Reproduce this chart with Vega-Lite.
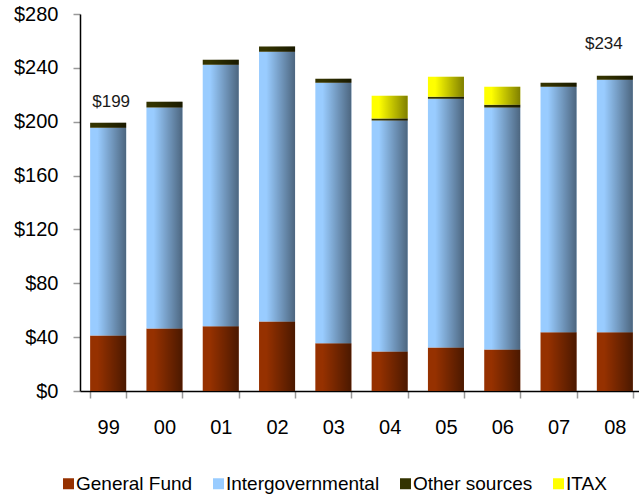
{
  "$schema": "https://vega.github.io/schema/vega-lite/v6.json",
  "width": 563,
  "height": 377,
  "autosize": {"type": "none"},
  "padding": {"left": 80, "top": 14, "right": 0, "bottom": 104},
  "background": "white",
  "config": {
    "view": {"stroke": null},
    "font": "Liberation Sans",
    "axis": {"grid": false, "title": null}
  },
  "datasets": {
    "rev": [
      {"year": "99", "series": "General Fund", "value": 41.3},
      {"year": "99", "series": "Intergovernmental", "value": 154.2},
      {"year": "99", "series": "Other sources", "value": 3.7},
      {"year": "00", "series": "General Fund", "value": 46.5},
      {"year": "00", "series": "Intergovernmental", "value": 164.1},
      {"year": "00", "series": "Other sources", "value": 4.2},
      {"year": "01", "series": "General Fund", "value": 48.0},
      {"year": "01", "series": "Intergovernmental", "value": 194.4},
      {"year": "01", "series": "Other sources", "value": 3.7},
      {"year": "02", "series": "General Fund", "value": 51.7},
      {"year": "02", "series": "Intergovernmental", "value": 200.3},
      {"year": "02", "series": "Other sources", "value": 3.8},
      {"year": "03", "series": "General Fund", "value": 35.4},
      {"year": "03", "series": "Intergovernmental", "value": 193.6},
      {"year": "03", "series": "Other sources", "value": 3.0},
      {"year": "04", "series": "General Fund", "value": 29.4},
      {"year": "04", "series": "Intergovernmental", "value": 171.5},
      {"year": "04", "series": "Other sources", "value": 1.5},
      {"year": "04", "series": "ITAX", "value": 16.9},
      {"year": "05", "series": "General Fund", "value": 32.4},
      {"year": "05", "series": "Intergovernmental", "value": 184.7},
      {"year": "05", "series": "Other sources", "value": 1.4},
      {"year": "05", "series": "ITAX", "value": 14.9},
      {"year": "06", "series": "General Fund", "value": 30.9},
      {"year": "06", "series": "Intergovernmental", "value": 179.7},
      {"year": "06", "series": "Other sources", "value": 2.0},
      {"year": "06", "series": "ITAX", "value": 13.4},
      {"year": "07", "series": "General Fund", "value": 43.6},
      {"year": "07", "series": "Intergovernmental", "value": 182.4},
      {"year": "07", "series": "Other sources", "value": 3.0},
      {"year": "08", "series": "General Fund", "value": 43.6},
      {"year": "08", "series": "Intergovernmental", "value": 187.6},
      {"year": "08", "series": "Other sources", "value": 3.0}
    ],
    "labels": [
      {"year": "99", "total": 199.2, "label": "$199"},
      {"year": "08", "total": 234.2, "label": "$234"}
    ]
  },
  "layer": [
    {
      "data": {"name": "rev"},
      "transform": [
        {"window": [{"op": "row_number", "as": "k"}], "groupby": ["year"]}
      ],
      "mark": {"type": "bar"},
      "encoding": {
        "x": {
          "field": "year", "type": "nominal", "sort": null,
          "scale": {"paddingInner": 0.36, "paddingOuter": 0.18},
          "axis": {
            "labelAngle": 0, "labelFontSize": 20, "labelColor": "#000",
            "labelPadding": 19, "tickBand": "extent", "tickSize": 7,
            "tickColor": "#999", "tickWidth": 1.5,
            "domainColor": "#000", "domainWidth": 1.5
          }
        },
        "y": {
          "field": "value", "type": "quantitative",
          "scale": {"domain": [0, 280]},
          "axis": {
            "values": [0, 40, 80, 120, 160, 200, 240, 280],
            "format": "$,.0f", "labelFontSize": 20, "labelColor": "#000",
            "labelPadding": 15, "tickSize": 7, "tickColor": "#999", "tickWidth": 1.5,
            "domainColor": "#000", "domainWidth": 1.5
          }
        },
        "order": {"field": "k", "type": "quantitative", "sort": "ascending"},
        "color": {
          "field": "series", "type": "nominal",
          "scale": {
            "domain": ["General Fund", "Intergovernmental", "Other sources", "ITAX"],
            "range": ["#963100", "#99ccff", "#333300", "#ffff00"]
          },
          "legend": {
            "title": null, "orient": "none", "direction": "horizontal",
            "legendX": -21, "legendY": 460, "padding": 0,
            "symbolType": "square", "symbolSize": 121, "symbolStrokeWidth": 0,
            "labelFontSize": 19, "labelColor": "#000", "labelOffset": -2,
            "columnPadding": 16, "labelLimit": 300
          }
        }
      }
    },
    {
      "data": {"name": "rev"},
      "mark": {
        "type": "bar",
        "fill": {"gradient": "linear", "x1": 0, "y1": 0, "x2": 1, "y2": 0,
          "stops": [
            {"offset": 0, "color": "rgba(0,0,0,0)"},
            {"offset": 0.2, "color": "rgba(0,0,0,0)"},
            {"offset": 1, "color": "rgba(0,0,0,0.5)"}
          ]}
      },
      "encoding": {
        "x": {"field": "year", "type": "nominal", "sort": null},
        "y": {"field": "value", "type": "quantitative", "aggregate": "sum"}
      }
    },
    {
      "data": {"name": "labels"},
      "transform": [{"filter": "datum.year == '99'"}],
      "mark": {"type": "text", "fontSize": 17, "color": "#1a1a1a", "dx": 3, "dy": -16, "baseline": "alphabetic"},
      "encoding": {
        "x": {"field": "year", "type": "nominal", "sort": null},
        "y": {"field": "total", "type": "quantitative"},
        "text": {"field": "label"}
      }
    },
    {
      "data": {"name": "labels"},
      "transform": [{"filter": "datum.year == '08'"}],
      "mark": {"type": "text", "fontSize": 17, "color": "#1a1a1a", "dx": -11, "dy": -27, "baseline": "alphabetic"},
      "encoding": {
        "x": {"field": "year", "type": "nominal", "sort": null},
        "y": {"field": "total", "type": "quantitative"},
        "text": {"field": "label"}
      }
    }
  ]
}
